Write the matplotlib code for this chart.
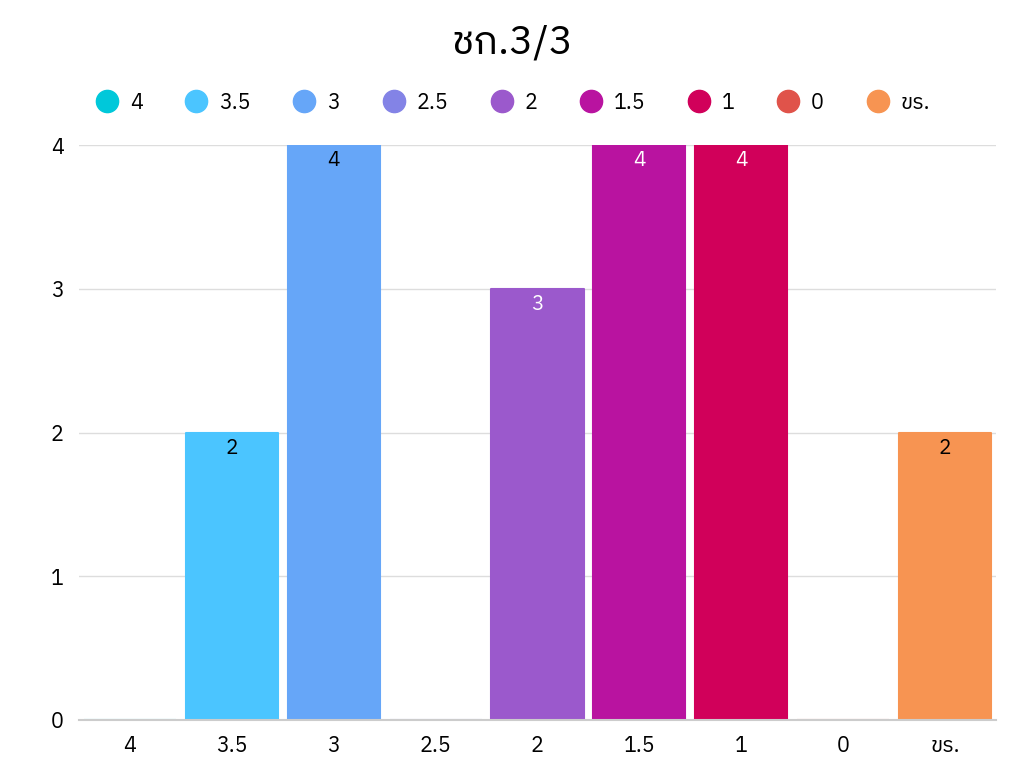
import matplotlib
matplotlib.use("Agg")
import matplotlib.pyplot as plt
from matplotlib import font_manager
from matplotlib.ft2font import FT2Font
from matplotlib.lines import Line2D

categories = ["4", "3.5", "3", "2.5", "2", "1.5", "1", "0", "ขร."]
values = [0, 2, 4, 0, 3, 4, 4, 0, 2]
colors = ["#00C8DA", "#4BC5FF", "#66A6F8", "#8383E6", "#9B59CC",
          "#B913A0", "#D1005A", "#E0534A", "#F79452"]
label_colors = ["black", "black", "black", "black", "white",
                "white", "white", "white", "black"]
title = "ชก.3/3"
yticks = [0, 1, 2, 3, 4]

# find a font with Thai glyphs
thai_family = None
for f in font_manager.fontManager.ttflist:
    try:
        cmap = FT2Font(f.fname).get_charmap()
    except Exception:
        continue
    if ord("ช") in cmap and ord("3") in cmap:
        thai_family = f.name
        if "Sans" in f.name:
            break
fams = ([thai_family] if thai_family else []) + ["DejaVu Sans"]
plt.rcParams["font.family"] = fams

fig = plt.figure(figsize=(10.24, 7.68), dpi=100)
ax = fig.add_axes([79/1024, 48/768, 917/1024, 575/768])

x = list(range(len(categories)))
bars = ax.bar(x, values, width=0.905, color=colors, zorder=3,
              edgecolor=colors, linewidth=1.5, joinstyle="round")
for xi, v, lc in zip(x, values, label_colors):
    if v > 0:
        ax.annotate(str(v), (xi, v), xytext=(0, -11.5), textcoords="offset points",
                    ha="center", va="center", fontsize=15, color=lc, zorder=4)

ax.set_xlim(-0.5, len(categories) - 0.5)
ax.set_ylim(0, 4)
ax.set_yticks(yticks)
ax.set_xticks(x)
ax.set_xticklabels(categories)
ax.tick_params(axis="both", length=0, labelsize=15.5, colors="black")
ax.tick_params(axis="y", pad=11)
ax.tick_params(axis="x", pad=11)
ax.yaxis.grid(True, color="#dddddd", linewidth=1, zorder=0)
for s in ["top", "right", "left"]:
    ax.spines[s].set_visible(False)
ax.spines["bottom"].set_color("#cccccc")
ax.spines["bottom"].set_linewidth(1.5)
ax.spines["bottom"].set_zorder(5)

fig.text(0.5, 1 - 43/768, title, ha="center", va="center", fontsize=29)

handles = [Line2D([], [], marker="o", linestyle="none", markersize=16,
                  markerfacecolor=c, markeredgecolor=c) for c in colors]
fig.legend(handles, categories, loc="center", bbox_to_anchor=(0.5, 1 - 103/768),
           ncol=len(categories), frameon=False, fontsize=15.5,
           handletextpad=0.45, columnspacing=1.9, handlelength=1.2)

fig.savefig("out.png", dpi=100)
